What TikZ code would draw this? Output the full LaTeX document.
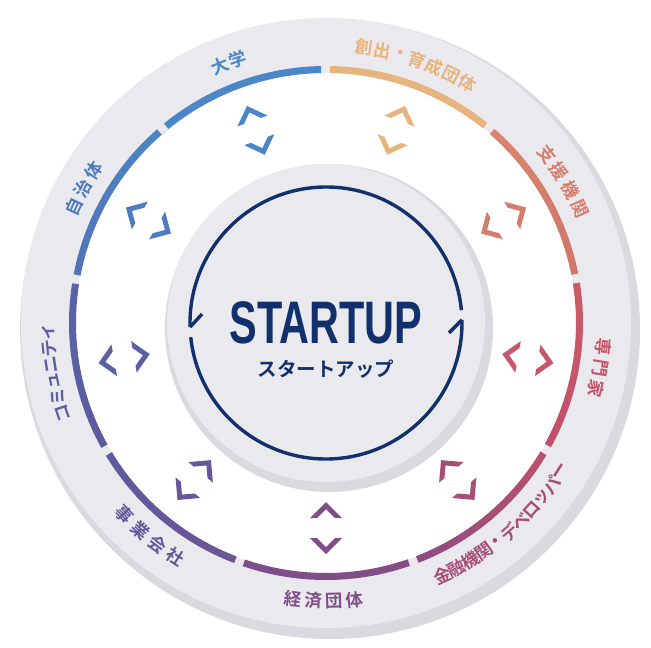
\documentclass[tikz,border=0pt]{standalone}
\usepackage{fontspec}
\newfontfamily\latinfont{Liberation Sans}
\newfontfamily\jpfont{Noto Sans CJK JP Bold}

\definecolor{ringgray}{HTML}{E9E9EE}
\definecolor{dropgray}{HTML}{D9D9DF}
\definecolor{wellgray}{HTML}{DCDCE3}
\definecolor{navy}{HTML}{12306C}
\definecolor{senmonA}{HTML}{C1506C}
\definecolor{senmonB}{HTML}{CB5C66}
\definecolor{shienA}{HTML}{D27668}
\definecolor{shienB}{HTML}{D88470}
\definecolor{soshutsu}{HTML}{E8B47E}
\definecolor{daigaku}{HTML}{4A86C8}
\definecolor{jichiA}{HTML}{4C84C6}
\definecolor{jichiB}{HTML}{5274B6}
\definecolor{commuA}{HTML}{5964A8}
\definecolor{commuB}{HTML}{5D5A9E}
\definecolor{jigyoA}{HTML}{5E5A9E}
\definecolor{jigyoB}{HTML}{6C5496}
\definecolor{keizaiA}{HTML}{7A4F8C}
\definecolor{keizaiB}{HTML}{864C84}
\definecolor{kinyuA}{HTML}{904C80}
\definecolor{kinyuB}{HTML}{BC506C}

\pgfdeclareradialshading{softedge}{\pgfpointorigin}{color(0bp)=(dropgray); color(47bp)=(dropgray); color(50bp)=(white); color(60bp)=(white)}
\pgfdeclareradialshading{welledge}{\pgfpointorigin}{color(0bp)=(white); color(43bp)=(white); color(50bp)=(wellgray); color(60bp)=(wellgray)}

% one label, one node per character along the ring
\newcommand\ringlabel[7]{%
  \foreach \ch [count=\i from 0, evaluate=\i as \t using #2+(\i-(#3-1)/2)*#4] in {#7}
    \node[lbl, text=#6, rotate=\t+#5] (#1\i) at (\t:278) {\ch};}

\begin{document}
\begin{tikzpicture}[x=1pt, y=1pt,
  ringseg/.style={line width=7pt},
  cyc/.style={navy, line width=3.4pt},
  lbl/.style={font=\jpfont\fontsize{17.5}{17.5}\selectfont, inner sep=0pt},
  chev/.pic={\fill (-16,-8) -- (0,8) -- (16,-8) -- (9,-8) -- (0,1) -- (-9,-8) -- cycle;}]

\fill[white] (-326,-325) rectangle (325,323);
\useasboundingbox (-326,-325) rectangle (325,323);

% outer ring and the well
\shade[shading=softedge] (4,-6) circle (310);
\fill[ringgray] (0,0) circle (305);
\begin{scope}
  \clip (0,0) circle (250.5);
  \fill[wellgray] (0,0) circle (251);
  \shade[shading=welledge] (8,-10) circle (262);
\end{scope}

% coloured segments
\foreach \a/\ca/\cb in {330/senmonA/senmonB, 10/shienA/shienB, 50/soshutsu/soshutsu, 90/daigaku/daigaku,
    130/jichiA/jichiB, 170/commuA/commuB, 210/jigyoA/jigyoB, 250/keizaiA/keizaiB, 290/kinyuA/kinyuB}{
  \foreach \k [evaluate=\k as \p using int(\k*11)] in {0,...,9}
    \draw[ringseg, color=\cb!\p!\ca] ({\a+1.1+\k*3.78}:253.5) arc[start angle=\a+1.1+\k*3.78, delta angle=3.95, radius=253.5];
}

% chevron pairs
\foreach \a/\c in {350/senmonA!50!senmonB, 30/shienA!50!shienB, 70/soshutsu, 110/daigaku, 150/jichiA!50!jichiB,
    190/commuA!50!commuB, 230/jigyoA!50!jigyoB, 270/keizaiA!50!keizaiB, 310/kinyuA!50!kinyuB}{
  \pic[color=\c, rotate=\a-90] at (\a:223) {chev};
  \pic[color=\c, rotate=\a+90] at (\a:187) {chev};
}

% centre disk
\shade[shading=softedge] (3,-5) circle (164);
\fill[ringgray] (0,0) circle (159);

\draw[cyc] (5.4:136) arc[start angle=5.4, end angle=181.7, radius=136];
\draw[cyc] (181.7:136) -- ++(12,13);
\draw[cyc] (186:136) arc[start angle=186, end angle=361.3, radius=136];
\draw[cyc] (1.3:136) -- ++(-13,-13);

\node[anchor=base, text=navy] (startup) at (0,-20) {\scalebox{0.69}[1]{\latinfont\bfseries\fontsize{60}{60}\selectfont STARTUP}};
\node[text=navy, font=\jpfont\fontsize{19.5}{19.5}\selectfont, inner sep=0pt] (kana) at (0,-46) {スタートアップ};

% labels
\ringlabel{daigaku}{110.5}{2}{-4.0}{-90}{daigaku}{大,学}
\ringlabel{soshutsu}{70.8}{7}{-3.8}{-90}{soshutsu}{創,出,・,育,成,団,体}
\ringlabel{shien}{30.8}{4}{-4.4}{-90}{shienA!50!shienB}{支,援,機,関}
\ringlabel{senmon}{350.7}{3}{-4.3}{-90}{senmonA!50!senmonB}{専,門,家}
\ringlabel{kinyu}{311.2}{11}{3.3}{90}{kinyuA!50!kinyuB}{金,融,機,関,・,デ,ベ,ロ,ッ,パ,ー}
\ringlabel{keizai}{269.5}{4}{4.2}{90}{keizaiA!50!keizaiB}{経,済,団,体}
\ringlabel{jigyo}{230.4}{4}{4.6}{90}{jigyoA!50!jigyoB}{事,業,会,社}
\ringlabel{commu}{190.4}{6}{-3.4}{-90}{commuA!50!commuB}{コ,ミ,ュ,ニ,テ,ィ}
\ringlabel{jichi}{151}{3}{-4.2}{-90}{jichiA!50!jichiB}{自,治,体}

\end{tikzpicture}
\end{document}
